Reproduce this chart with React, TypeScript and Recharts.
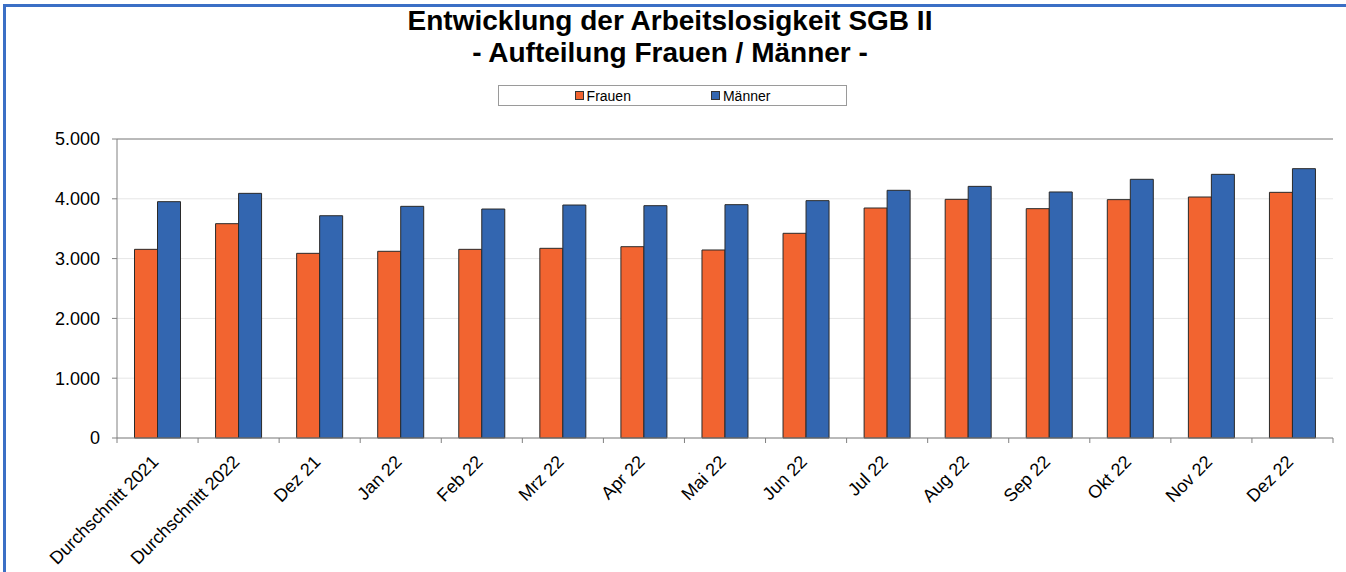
import React from "react";
import {
  Bar,
  BarChart,
  CartesianGrid,
  Legend,
  ReferenceLine,
  XAxis,
  YAxis,
} from "recharts";

const categories = [
  "Durchschnitt 2021",
  "Durchschnitt 2022",
  "Dez 21",
  "Jan 22",
  "Feb 22",
  "Mrz 22",
  "Apr 22",
  "Mai 22",
  "Jun 22",
  "Jul 22",
  "Aug 22",
  "Sep 22",
  "Okt 22",
  "Nov 22",
  "Dez 22",
];

const frauen = [3155, 3584, 3088, 3122, 3155, 3172, 3199, 3144, 3423, 3846, 3991, 3835, 3986, 4030, 4108];
const maenner = [3952, 4091, 3717, 3874, 3829, 3896, 3885, 3902, 3969, 4142, 4208, 4114, 4326, 4409, 4504];

const yTicks = [0, 1000, 2000, 3000, 4000, 5000];

const data = categories.map((name, i) => ({
  name,
  Frauen: frauen[i],
  Männer: maenner[i],
}));

const W = 1346;
const H = 572;
const M = { top: 139, right: 13, bottom: 0, left: 0 };
const Y_AXIS_W = 117;
const X_AXIS_H = 134;
const PLOT_W = W - M.left - M.right - Y_AXIS_W;

const FONT = "'Liberation Sans', Arial, sans-serif";
const AXIS = "#808080";

function XTick(props: any) {
  const { x, y, payload, index } = props;
  const half = PLOT_W / categories.length / 2;
  const ax = x + 2;
  const ay = y + 25;
  return (
    <g>
      <line x1={x - half} x2={x - half} y1={y} y2={y + 5} stroke={AXIS} />
      {index === categories.length - 1 && (
        <line x1={x + half} x2={x + half} y1={y} y2={y + 5} stroke={AXIS} />
      )}
      <text
        x={ax}
        y={ay}
        transform={`rotate(-45 ${ax} ${ay})`}
        textAnchor="end"
        fontSize={18}
        fontFamily={FONT}
        fill="#000"
      >
        {payload.value}
      </text>
    </g>
  );
}

function LegendBox(props: any) {
  const items = props.payload || [];
  return (
    <div
      style={{
        width: 349,
        height: 21,
        boxSizing: "border-box",
        border: "1px solid #9a9a9a",
        background: "#fff",
        display: "flex",
        alignItems: "center",
        justifyContent: "center",
        gap: 80,
        fontFamily: FONT,
        fontSize: 14,
        color: "#000",
      }}
    >
      {items.map((it: any) => (
        <span key={it.value} style={{ display: "flex", alignItems: "center" }}>
          <span
            style={{
              width: 7,
              height: 7,
              background: it.color,
              border: "1px solid #333",
              marginRight: 3,
            }}
          />
          {it.value}
        </span>
      ))}
    </div>
  );
}

export default function App() {
  return (
    <div
      style={{
        position: "absolute",
        left: 0,
        top: 0,
        width: W,
        height: H,
        overflow: "hidden",
        background: "#fff",
      }}
    >
      <div
        style={{
          position: "absolute",
          left: 3,
          top: 4,
          width: 1500,
          height: 800,
          borderLeft: "3px solid #3b6fc5",
          borderTop: "3px solid #3b6fc5",
        }}
      />
      <div
        style={{
          position: "absolute",
          left: 0,
          width: 1340,
          top: 5,
          textAlign: "center",
          fontFamily: FONT,
          fontWeight: "bold",
          fontSize: 28,
          lineHeight: "32px",
          color: "#000",
        }}
      >
        <div>Entwicklung der Arbeitslosigkeit SGB II</div>
        <div>- Aufteilung Frauen / Männer -</div>
      </div>
      <BarChart
        width={W}
        height={H}
        data={data}
        margin={M}
        barCategoryGap="21.6%"
        barGap={0}
        style={{ position: "absolute", left: 0, top: 0 }}
      >
        <CartesianGrid vertical={false} stroke="#e6e6e6" />
        <XAxis
          dataKey="name"
          height={X_AXIS_H}
          interval={0}
          tickSize={0}
          tickMargin={0}
          tickLine={false}
          stroke={AXIS}
          tick={<XTick />}
        />
        <YAxis
          width={Y_AXIS_W}
          domain={[0, 5000]}
          ticks={yTicks}
          tickSize={5}
          tickMargin={12}
          stroke={AXIS}
          tick={{ fill: "#000", fontSize: 18, fontFamily: FONT }}
          tickFormatter={(v) => v.toLocaleString("de-DE")}
        />
        <YAxis yAxisId="right" orientation="right" width={0} tick={false} stroke={AXIS} />
        <ReferenceLine y={5000} stroke={AXIS} />
        <Legend
          layout="horizontal"
          verticalAlign="middle"
          align="center"
          content={<LegendBox />}
          wrapperStyle={{ top: 85, left: 498, width: 349, height: 21 }}
        />
        <Bar dataKey="Frauen" fill="#f26430" stroke="#2a2a2a" strokeWidth={1} isAnimationActive={false} />
        <Bar dataKey="Männer" fill="#3366b0" stroke="#2a2a2a" strokeWidth={1} isAnimationActive={false} />
      </BarChart>
    </div>
  );
}
